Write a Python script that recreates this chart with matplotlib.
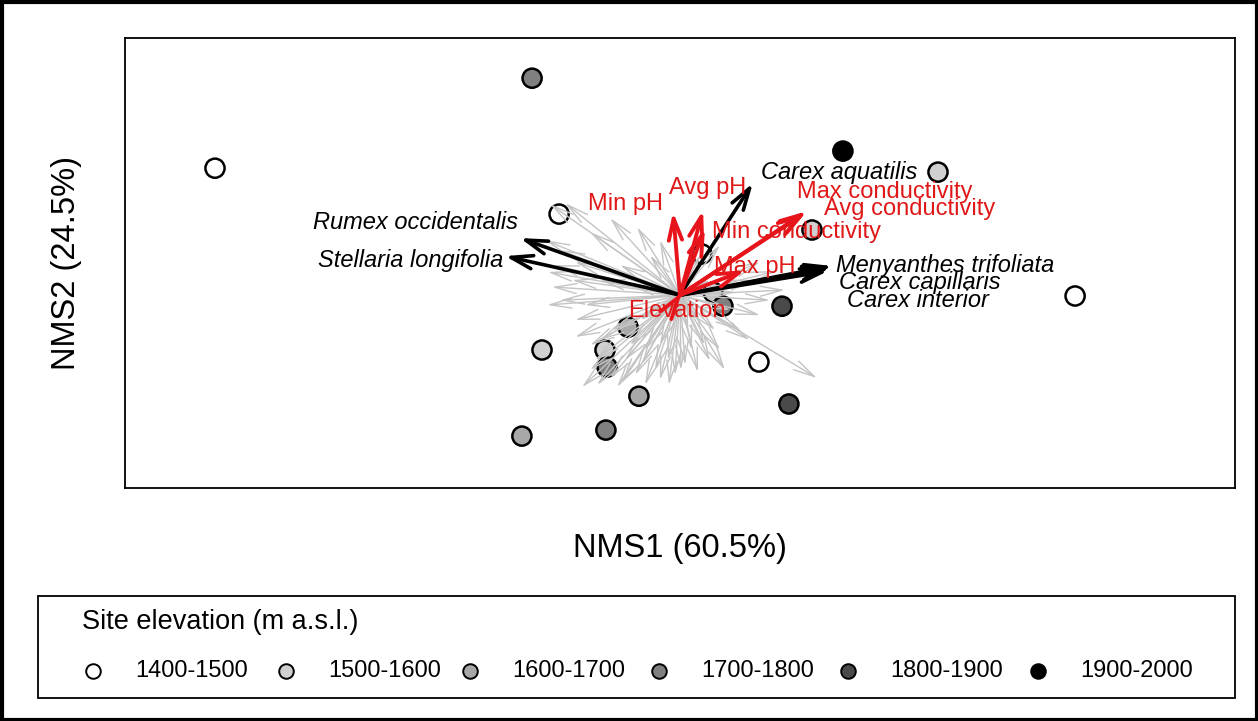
import matplotlib
matplotlib.use("Agg")
import matplotlib.pyplot as plt
from matplotlib.patches import Rectangle

plt.rcParams['font.family'] = ['Liberation Sans', 'DejaVu Sans']

# elevation classes and their fill colours
elev_classes = ['1400-1500', '1500-1600', '1600-1700', '1700-1800', '1800-1900', '1900-2000']
elev_fills = ['#ffffff', '#d0d0d0', '#a8a8a8', '#808080', '#4a4a4a', '#000000']

# site scores (NMS1, NMS2) and elevation class index
site_x = [-1.550, -0.493, 0.543, 0.860, -0.403, 0.440, 0.073, 0.110, 0.143, 0.340,
          -0.173, -0.460, -0.250, -0.243, 0.263, -0.137, 0.363, -0.247, -0.527, 1.317]
site_y = [0.423, 0.723, 0.480, 0.410, 0.270, 0.217, 0.137, 0.010, -0.037, -0.037,
          -0.107, -0.183, -0.183, -0.240, -0.223, -0.337, -0.363, -0.450, -0.470, -0.003]
site_class = [0, 3, 5, 1, 0, 1, 0, 1, 3, 4,
              2, 1, 1, 3, 0, 2, 4, 3, 2, 0]

# all other species vectors (drawn in grey)
spp_x = [-0.383, -0.433, -0.143, -0.233, -0.300, -0.450, -0.400, -0.350, -0.427, -0.440,
         -0.400, -0.443, -0.350, -0.317, -0.350, -0.300, -0.327, -0.277, -0.233, -0.210,
         -0.183, -0.150, -0.117, -0.083, -0.067, -0.040, -0.017, 0.017, 0.060, 0.040,
         0.083, 0.133, 0.117, -0.267, -0.227, -0.167, -0.117, -0.067, 0.457, 0.267,
         0.200, 0.300, 0.350, 0.250, 0.167, 0.233, 0.133, 0.267, 0.067, -0.067,
         -0.100, -0.200, -0.267, -0.167, 0.100, 0.183, -0.133, 0.067, 0.027, -0.283,
         -0.300, -0.193, -0.127, -0.037, 0.003, 0.100, -0.420, -0.360, 0.320, 0.150]
spp_y = [0.307, 0.303, 0.227, 0.257, 0.210, 0.183, 0.150, 0.110, 0.027, 0.077,
         -0.017, -0.033, -0.083, -0.033, -0.140, -0.167, -0.307, -0.300, -0.277, -0.307,
         -0.217, -0.267, -0.300, -0.250, -0.283, -0.217, -0.267, -0.233, -0.257, -0.183,
         -0.167, -0.183, -0.117, -0.150, -0.117, -0.167, -0.183, -0.167, -0.277, -0.067,
         -0.117, -0.017, 0.017, 0.050, -0.050, -0.150, 0.167, 0.110, 0.133, 0.183,
         0.133, 0.100, 0.050, 0.033, 0.050, 0.010, -0.083, -0.083, -0.117, -0.217,
         -0.250, -0.290, -0.230, -0.300, -0.250, -0.220, 0.100, 0.050, 0.080, -0.250]

# species significantly correlated with the axes
sig_names = ['Rumex occidentalis', 'Stellaria longifolia', 'Carex aquatilis',
             'Menyanthes trifoliata', 'Carex capillaris', 'Carex interior']
sig_x = [-0.533, -0.583, 0.243, 0.507, 0.500, 0.493]
sig_y = [0.190, 0.130, 0.373, 0.097, 0.090, 0.080]
sig_lab_x = [-0.880, -0.897, 0.530, 0.883, 0.800, 0.793]
sig_lab_y = [0.243, 0.117, 0.410, 0.100, 0.043, -0.017]

# environmental vectors
env_names = ['Min pH', 'Avg pH', 'Min conductivity', 'Max pH',
             'Max conductivity', 'Avg conductivity', 'Elevation']
env_x = [-0.023, 0.077, 0.083, 0.217, 0.423, 0.417, 0.007]
env_y = [0.277, 0.283, 0.223, 0.083, 0.280, 0.273, 0.010]
env_lab_x = [-0.180, 0.093, 0.387, 0.250, 0.683, 0.767, -0.010]
env_lab_y = [0.303, 0.357, 0.210, 0.093, 0.343, 0.287, -0.053]

W, H = 1258, 721
fig = plt.figure(figsize=(W / 100, H / 100), dpi=100)

ax = fig.add_axes([125 / W, 1 - 488 / H, 1110 / W, 450 / H])
ax.set_xlim(-1.85, 1.85)
ax.set_ylim(-0.643, 0.857)
ax.set_xticks([])
ax.set_yticks([])
for s in ax.spines.values():
    s.set_linewidth(1.3)

ax.scatter(site_x, site_y, s=190, c=[elev_fills[k] for k in site_class],
           edgecolors='black', linewidths=1.8, zorder=2)


def vector(x, y, color, lw, zorder, hl, hw):
    ax.annotate('', xy=(x, y), xytext=(0, 0),
                arrowprops=dict(arrowstyle='->,head_length=%s,head_width=%s' % (hl, hw),
                                color=color, lw=lw, shrinkA=0, shrinkB=0,
                                mutation_scale=12),
                zorder=zorder)


for x, y in zip(spp_x, spp_y):
    vector(x, y, '#c4c4c4', 1.0, 3, 1.3, 0.3)

for x, y in zip(sig_x, sig_y):
    vector(x, y, 'black', 2.6, 4, 1.3, 0.4)

for x, y in zip(env_x, env_y):
    vector(x, y, '#e8141c', 2.8, 5, 1.3, 0.4)

for name, x, y in zip(sig_names, sig_lab_x, sig_lab_y):
    ax.text(x, y, name, ha='center', va='center', fontsize=17,
            style='italic', zorder=6)

for name, x, y in zip(env_names, env_lab_x, env_lab_y):
    ax.text(x, y, name, ha='center', va='center', fontsize=17,
            color='#e01818', zorder=6)

# page overlay for outer frame, axis titles and legend
pg = fig.add_axes([0, 0, 1, 1], zorder=-1)
pg.set_xlim(0, W)
pg.set_ylim(H, 0)
pg.axis('off')
pg.add_patch(Rectangle((1.5, 1.5), W - 3, H - 3, fill=False, lw=3, ec='black'))

pg.text(680, 549, 'NMS1 (60.5%)', ha='center', va='center', fontsize=23.5)
pg.text(67, 263, 'NMS2 (24.5%)', ha='center', va='center', fontsize=23.5,
        rotation=90)

pg.add_patch(Rectangle((38, 596), 1197, 102, fill=False, lw=1.3, ec='black'))
pg.text(82, 622, 'Site elevation (m a.s.l.)', ha='left', va='center', fontsize=19.5)
leg_marker_x = [93, 286, 470, 659, 848, 1038]
for i, (lab, col) in enumerate(zip(elev_classes, elev_fills)):
    pg.scatter(leg_marker_x[i], 671, s=110, c=col, edgecolors='black',
               linewidths=1.4)
    pg.text(leg_marker_x[i] + 42, 671, lab, ha='left', va='center', fontsize=17)

fig.savefig('out.png', dpi=100)
